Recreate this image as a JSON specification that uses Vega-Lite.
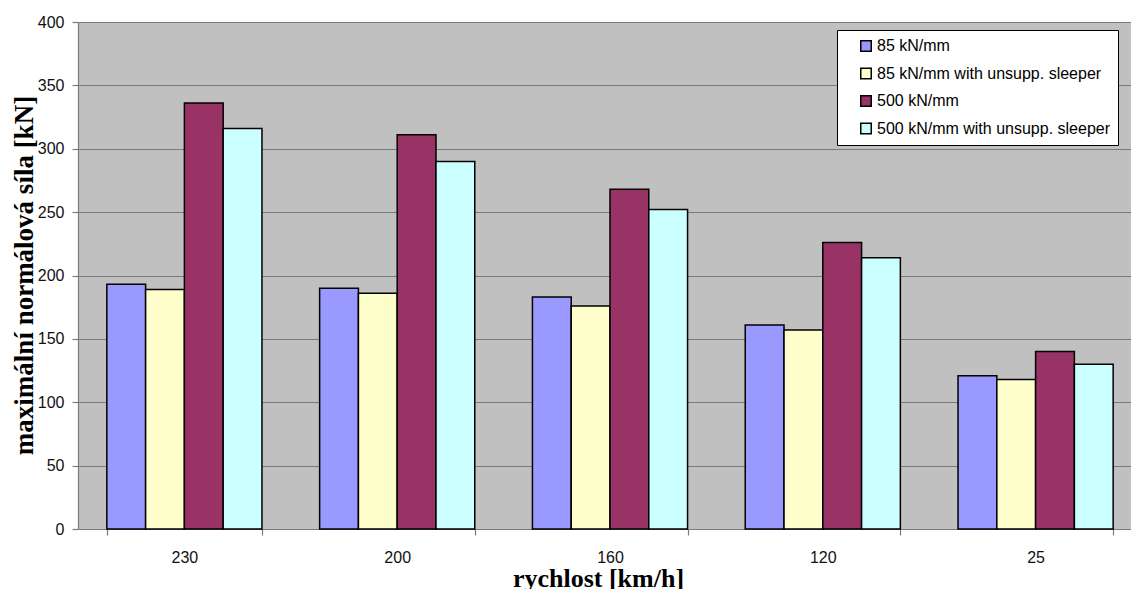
{
  "$schema": "https://vega.github.io/schema/vega-lite/v6.json",
  "width": 1053,
  "height": 507,
  "autosize": {"type": "none"},
  "padding": {"left": 78, "top": 22, "right": 0, "bottom": 60},
  "background": "white",
  "config": {
    "view": {"fill": "#c0c0c0", "stroke": null},
    "axis": {
      "labelFont": "Liberation Sans",
      "labelColor": "#111111",
      "titleFont": "Liberation Serif",
      "titleFontWeight": "bold",
      "titleColor": "#000000",
      "domainColor": "#7a7a7a",
      "tickColor": "#7a7a7a",
      "domainWidth": 1.2,
      "tickWidth": 1.2
    }
  },
  "data": {
    "values": [
      {"rychlost": "230", "serie": "85 kN/mm", "sila": 193},
      {"rychlost": "230", "serie": "85 kN/mm with unsupp. sleeper", "sila": 189},
      {"rychlost": "230", "serie": "500 kN/mm", "sila": 336},
      {"rychlost": "230", "serie": "500 kN/mm with unsupp. sleeper", "sila": 316},
      {"rychlost": "200", "serie": "85 kN/mm", "sila": 190},
      {"rychlost": "200", "serie": "85 kN/mm with unsupp. sleeper", "sila": 186},
      {"rychlost": "200", "serie": "500 kN/mm", "sila": 311},
      {"rychlost": "200", "serie": "500 kN/mm with unsupp. sleeper", "sila": 290},
      {"rychlost": "160", "serie": "85 kN/mm", "sila": 183},
      {"rychlost": "160", "serie": "85 kN/mm with unsupp. sleeper", "sila": 176},
      {"rychlost": "160", "serie": "500 kN/mm", "sila": 268},
      {"rychlost": "160", "serie": "500 kN/mm with unsupp. sleeper", "sila": 252},
      {"rychlost": "120", "serie": "85 kN/mm", "sila": 161},
      {"rychlost": "120", "serie": "85 kN/mm with unsupp. sleeper", "sila": 157},
      {"rychlost": "120", "serie": "500 kN/mm", "sila": 226},
      {"rychlost": "120", "serie": "500 kN/mm with unsupp. sleeper", "sila": 214},
      {"rychlost": "25", "serie": "85 kN/mm", "sila": 121},
      {"rychlost": "25", "serie": "85 kN/mm with unsupp. sleeper", "sila": 118},
      {"rychlost": "25", "serie": "500 kN/mm", "sila": 140},
      {"rychlost": "25", "serie": "500 kN/mm with unsupp. sleeper", "sila": 130}
    ]
  },
  "mark": {"type": "bar", "stroke": "#000000", "strokeWidth": 1.5},
  "encoding": {
    "x": {
      "field": "rychlost",
      "type": "nominal",
      "sort": ["230", "200", "160", "120", "25"],
      "scale": {"range": [0, 1064], "paddingInner": 0.271, "paddingOuter": 0.1355},
      "axis": {
        "title": "rychlost [km/h]",
        "titleFontSize": 26,
        "titleBaseline": "alphabetic",
        "titleX": 520,
        "titleY": 57,
        "labelAngle": 0,
        "labelFontSize": 16,
        "labelPadding": 14,
        "tickBand": "extent",
        "tickSize": 6,
        "grid": false
      }
    },
    "xOffset": {
      "field": "serie",
      "type": "nominal",
      "sort": ["85 kN/mm", "85 kN/mm with unsupp. sleeper", "500 kN/mm", "500 kN/mm with unsupp. sleeper"],
      "scale": {"paddingInner": 0, "paddingOuter": 0}
    },
    "y": {
      "field": "sila",
      "type": "quantitative",
      "scale": {"domain": [0, 400], "nice": false},
      "axis": {
        "title": "maximální normálová síla [kN]",
        "titleFontSize": 27,
        "titleBaseline": "middle",
        "titleX": -54,
        "titleY": 253,
        "values": [0, 50, 100, 150, 200, 250, 300, 350, 400],
        "labelFontSize": 16,
        "labelPadding": 8,
        "tickSize": 6,
        "grid": true,
        "gridColor": "#7a7a7a",
        "gridWidth": 1.2,
        "gridOpacity": 1
      }
    },
    "color": {
      "field": "serie",
      "type": "nominal",
      "sort": ["85 kN/mm", "85 kN/mm with unsupp. sleeper", "500 kN/mm", "500 kN/mm with unsupp. sleeper"],
      "scale": {
        "domain": ["85 kN/mm", "85 kN/mm with unsupp. sleeper", "500 kN/mm", "500 kN/mm with unsupp. sleeper"],
        "range": ["#9999ff", "#ffffcc", "#993366", "#ccffff"]
      },
      "legend": {
        "title": null,
        "orient": "none",
        "legendX": 759,
        "legendY": 8,
        "fillColor": "#ffffff",
        "strokeColor": "#000000",
        "padding": 8,
        "symbolType": "square",
        "symbolSize": 110,
        "symbolStrokeColor": "#000000",
        "symbolStrokeWidth": 1.5,
        "symbolOpacity": 1,
        "symbolOffset": 13,
        "labelOffset": 3,
        "labelFont": "Liberation Sans",
        "labelFontSize": 16,
        "labelColor": "#000000",
        "labelLimit": 400,
        "rowPadding": 9.5
      }
    }
  }
}
